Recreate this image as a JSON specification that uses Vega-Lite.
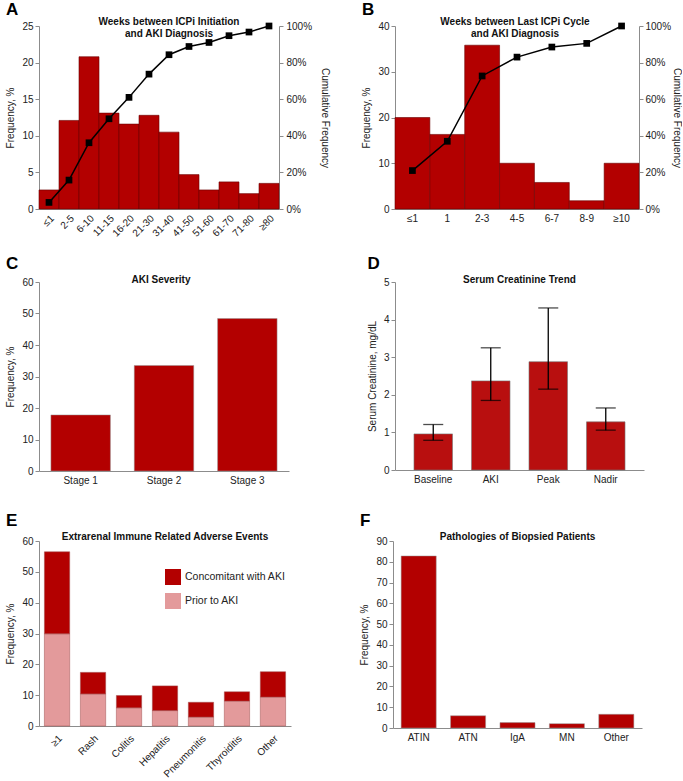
{
  "$schema": "https://vega.github.io/schema/vega-lite/v6.json",
  "background": "white",
  "padding": {"left": 5, "top": 0, "right": 0, "bottom": 0},
  "config": {
    "font": "Liberation Sans",
    "view": {"stroke": null},
    "axis": {"domainColor": "#8c8c8c", "tickColor": "#8c8c8c", "labelColor": "#222", "labelFontSize": 10, "titleFontSize": 10, "titleFontWeight": "normal", "titleColor": "#222", "grid": false, "tickSize": 4, "labelPadding": 2, "titlePadding": 6},
    "axisX": {"ticks": false, "labelPadding": 4},
    "title": {"fontSize": 10, "fontWeight": "bold", "color": "#111", "lineHeight": 12.3}
  },
  "spacing": 16,
  "resolve": {"legend": {"color": "independent"}, "scale": {"color": "independent"}},
  "vconcat": [
    {
      "spacing": 31,
      "hconcat": [
        {
          "title": {"text": "A", "anchor": "start", "fontSize": 17, "fontWeight": "bold", "color": "#000", "frame": "bounds", "offset": -2},
          "vconcat": [
            {
              "width": 240, "height": 183,
              "title": {"text": ["Weeks between ICPi Initiation", "and AKI Diagnosis"], "offset": -18, "dx": 10},
              "data": {"values": [
                {"bin": "≤1", "freq": 2.6, "cum": 3.6},
                {"bin": "2-5", "freq": 12.1, "cum": 15.8},
                {"bin": "6-10", "freq": 20.8, "cum": 36.2},
                {"bin": "11-15", "freq": 13.1, "cum": 49.3},
                {"bin": "16-20", "freq": 11.6, "cum": 61.0},
                {"bin": "21-30", "freq": 12.8, "cum": 73.7},
                {"bin": "31-40", "freq": 10.5, "cum": 84.3},
                {"bin": "41-50", "freq": 4.7, "cum": 88.8},
                {"bin": "51-60", "freq": 2.6, "cum": 91.0},
                {"bin": "61-70", "freq": 3.7, "cum": 94.7},
                {"bin": "71-80", "freq": 2.1, "cum": 96.7},
                {"bin": "≥80", "freq": 3.5, "cum": 100}
              ]},
              "layer": [
                {
                  "mark": {"type": "bar", "color": "#B30000", "stroke": "#6a0000", "strokeWidth": 0.6},
                  "encoding": {
                    "x": {"field": "bin", "type": "nominal", "sort": null, "scale": {"paddingInner": 0, "paddingOuter": 0}, "axis": {"labelAngle": -45, "title": null}},
                    "y": {"field": "freq", "type": "quantitative", "scale": {"domain": [0, 25]}, "axis": {"title": "Frequency, %", "values": [0, 5, 10, 15, 20, 25]}}
                  }
                },
                {
                  "mark": {"type": "line", "color": "#000", "strokeWidth": 1.5, "point": {"shape": "square", "filled": true, "color": "#000", "size": 45}},
                  "encoding": {
                    "x": {"field": "bin", "type": "nominal", "sort": null},
                    "y": {"field": "cum", "type": "quantitative", "scale": {"domain": [0, 100]}, "axis": {"orient": "right", "title": "Cumulative Frequency", "values": [0, 20, 40, 60, 80, 100], "labelExpr": "datum.value + '%'", "labelPadding": 3, "titlePadding": 8}}
                  }
                }
              ],
              "resolve": {"scale": {"y": "independent"}}
            }
          ]
        },
        {
          "title": {"text": "B", "anchor": "start", "fontSize": 17, "fontWeight": "bold", "color": "#000", "frame": "bounds", "offset": -2},
          "vconcat": [
            {
              "width": 244, "height": 183,
              "title": {"text": ["Weeks between Last ICPi Cycle", "and AKI Diagnosis"], "offset": -18, "dx": -2},
              "data": {"values": [
                {"bin": "≤1", "freq": 20, "cum": 21},
                {"bin": "1", "freq": 16.3, "cum": 37},
                {"bin": "2-3", "freq": 35.8, "cum": 72.7},
                {"bin": "4-5", "freq": 10, "cum": 83},
                {"bin": "6-7", "freq": 5.8, "cum": 88.5},
                {"bin": "8-9", "freq": 1.8, "cum": 90.5},
                {"bin": "≥10", "freq": 10, "cum": 100}
              ]},
              "layer": [
                {
                  "mark": {"type": "bar", "color": "#B30000", "stroke": "#6a0000", "strokeWidth": 0.6},
                  "encoding": {
                    "x": {"field": "bin", "type": "nominal", "sort": null, "scale": {"paddingInner": 0, "paddingOuter": 0}, "axis": {"labelAngle": 0, "title": null}},
                    "y": {"field": "freq", "type": "quantitative", "scale": {"domain": [0, 40]}, "axis": {"title": "Frequency, %", "values": [0, 10, 20, 30, 40]}}
                  }
                },
                {
                  "mark": {"type": "line", "color": "#000", "strokeWidth": 1.5, "point": {"shape": "square", "filled": true, "color": "#000", "size": 45}},
                  "encoding": {
                    "x": {"field": "bin", "type": "nominal", "sort": null},
                    "y": {"field": "cum", "type": "quantitative", "scale": {"domain": [0, 100]}, "axis": {"orient": "right", "title": "Cumulative Frequency", "values": [0, 20, 40, 60, 80, 100], "labelExpr": "datum.value + '%'", "labelPadding": 2, "titlePadding": 1}}
                  }
                }
              ],
              "resolve": {"scale": {"y": "independent"}}
            }
          ]
        }
      ]
    },
    {
      "spacing": 27,
      "resolve": {"legend": {"color": "independent"}, "scale": {"color": "independent"}},
      "vconcat": [
        {
          "spacing": 78,
          "hconcat": [
            {
              "title": {"text": "C", "anchor": "start", "fontSize": 17, "fontWeight": "bold", "color": "#000", "frame": "bounds", "offset": 2},
              "vconcat": [
                {
                  "width": 250, "height": 189,
                  "title": {"text": "AKI Severity", "offset": -8, "dx": -3},
                  "data": {"values": [
                    {"stage": "Stage 1", "v": 17.8},
                    {"stage": "Stage 2", "v": 33.5},
                    {"stage": "Stage 3", "v": 48.4}
                  ]},
                  "mark": {"type": "bar", "color": "#B30000", "stroke": "#999", "strokeWidth": 0.5},
                  "encoding": {
                    "x": {"field": "stage", "type": "nominal", "sort": null, "scale": {"paddingInner": 0.286, "paddingOuter": 0.143}, "axis": {"labelAngle": 0, "title": null}},
                    "y": {"field": "v", "type": "quantitative", "scale": {"domain": [0, 60]}, "axis": {"title": "Frequency, %", "values": [0, 10, 20, 30, 40, 50, 60]}}
                  }
                }
              ]
            },
            {
              "title": {"text": "D", "anchor": "start", "fontSize": 17, "fontWeight": "bold", "color": "#000", "frame": "bounds", "offset": 2},
              "vconcat": [
                {
                  "width": 249, "height": 188,
                  "title": {"text": "Serum Creatinine Trend", "offset": -8},
                  "data": {"values": [
                    {"k": "Baseline", "v": 0.96, "lo": 0.79, "hi": 1.21},
                    {"k": "AKI", "v": 2.37, "lo": 1.85, "hi": 3.25},
                    {"k": "Peak", "v": 2.88, "lo": 2.15, "hi": 4.31},
                    {"k": "Nadir", "v": 1.28, "lo": 1.06, "hi": 1.65}
                  ]},
                  "encoding": {
                    "x": {"field": "k", "type": "nominal", "sort": null, "scale": {"paddingInner": 0.33, "paddingOuter": 0.33}, "axis": {"labelAngle": 0, "title": null}}
                  },
                  "layer": [
                    {
                      "mark": {"type": "bar", "color": "#B80F0F", "stroke": "#777", "strokeWidth": 0.6},
                      "encoding": {"y": {"field": "v", "type": "quantitative", "scale": {"domain": [0, 5]}, "axis": {"title": "Serum Creatinine, mg/dL", "values": [0, 1, 2, 3, 4, 5]}}}
                    },
                    {
                      "mark": {"type": "rule", "color": "#000", "strokeWidth": 1.3},
                      "encoding": {"y": {"field": "lo", "type": "quantitative", "axis": {"title": "Serum Creatinine, mg/dL", "values": [0, 1, 2, 3, 4, 5]}}, "y2": {"field": "hi"}}
                    },
                    {
                      "mark": {"type": "tick", "color": "#000", "thickness": 1.3, "size": 20},
                      "encoding": {"y": {"field": "lo", "type": "quantitative", "axis": {"title": "Serum Creatinine, mg/dL", "values": [0, 1, 2, 3, 4, 5]}}}
                    },
                    {
                      "mark": {"type": "tick", "color": "#000", "thickness": 1.3, "size": 20},
                      "encoding": {"y": {"field": "hi", "type": "quantitative", "axis": {"title": "Serum Creatinine, mg/dL", "values": [0, 1, 2, 3, 4, 5]}}}
                    }
                  ]
                }
              ]
            }
          ]
        },
        {
          "spacing": 68,
          "resolve": {"legend": {"color": "independent"}, "scale": {"color": "independent"}},
          "hconcat": [
            {
              "title": {"text": "E", "anchor": "start", "fontSize": 17, "fontWeight": "bold", "color": "#000", "frame": "bounds", "offset": 2},
              "resolve": {"legend": {"color": "independent"}, "scale": {"color": "independent"}},
              "vconcat": [
                {
                  "width": 252, "height": 185,
                  "title": {"text": "Extrarenal Immune Related Adverse Events", "offset": -6},
                  "data": {"values": [
                    {"cat": "≥1", "series": "Prior to AKI", "v": 29.9, "ord": 1},
                    {"cat": "≥1", "series": "Concomitant with AKI", "v": 26.6, "ord": 2},
                    {"cat": "Rash", "series": "Prior to AKI", "v": 10.4, "ord": 1},
                    {"cat": "Rash", "series": "Concomitant with AKI", "v": 7.0, "ord": 2},
                    {"cat": "Colitis", "series": "Prior to AKI", "v": 5.9, "ord": 1},
                    {"cat": "Colitis", "series": "Concomitant with AKI", "v": 4.0, "ord": 2},
                    {"cat": "Hepatitis", "series": "Prior to AKI", "v": 5.0, "ord": 1},
                    {"cat": "Hepatitis", "series": "Concomitant with AKI", "v": 8.0, "ord": 2},
                    {"cat": "Pneumonitis", "series": "Prior to AKI", "v": 2.9, "ord": 1},
                    {"cat": "Pneumonitis", "series": "Concomitant with AKI", "v": 4.8, "ord": 2},
                    {"cat": "Thyroiditis", "series": "Prior to AKI", "v": 8.1, "ord": 1},
                    {"cat": "Thyroiditis", "series": "Concomitant with AKI", "v": 3.0, "ord": 2},
                    {"cat": "Other", "series": "Prior to AKI", "v": 9.4, "ord": 1},
                    {"cat": "Other", "series": "Concomitant with AKI", "v": 8.2, "ord": 2}
                  ]},
                  "mark": {"type": "bar", "stroke": "#a05050", "strokeWidth": 0.5},
                  "encoding": {
                    "x": {"field": "cat", "type": "nominal", "sort": null, "scale": {"paddingInner": 0.297, "paddingOuter": 0.15}, "axis": {"labelAngle": -45, "title": null, "labelPadding": 7, "labelFontSize": 10}},
                    "y": {"field": "v", "type": "quantitative", "stack": "zero", "scale": {"domain": [0, 60]}, "axis": {"title": "Frequency, %", "values": [0, 10, 20, 30, 40, 50, 60]}},
                    "color": {"field": "series", "type": "nominal", "scale": {"domain": ["Concomitant with AKI", "Prior to AKI"], "range": ["#B30000", "#E39A9B"]}, "legend": {"title": null, "orient": "none", "legendX": 126, "legendY": 28, "symbolType": "square", "symbolSize": 256, "symbolStrokeWidth": 0, "labelFontSize": 10.5, "labelColor": "#222", "rowPadding": 8, "labelOffset": 4}},
                    "order": {"field": "ord", "type": "quantitative"}
                  }
                }
              ]
            },
            {
              "title": {"text": "F", "anchor": "start", "fontSize": 17, "fontWeight": "bold", "color": "#000", "frame": "bounds", "offset": 2},
              "vconcat": [
                {
                  "width": 249, "height": 187,
                  "title": {"text": "Pathologies of Biopsied Patients", "offset": -6},
                  "data": {"values": [
                    {"p": "ATIN", "v": 82.8},
                    {"p": "ATN", "v": 5.9},
                    {"p": "IgA", "v": 2.6},
                    {"p": "MN", "v": 2.1},
                    {"p": "Other", "v": 6.6}
                  ]},
                  "mark": {"type": "bar", "color": "#B30000", "stroke": "#999", "strokeWidth": 0.5},
                  "encoding": {
                    "x": {"field": "p", "type": "nominal", "sort": null, "scale": {"paddingInner": 0.29, "paddingOuter": 0.165}, "axis": {"labelAngle": 0, "title": null}},
                    "y": {"field": "v", "type": "quantitative", "scale": {"domain": [0, 90]}, "axis": {"title": "Frequency, %", "values": [0, 10, 20, 30, 40, 50, 60, 70, 80, 90]}}
                  }
                }
              ]
            }
          ]
        }
      ]
    }
  ]
}
